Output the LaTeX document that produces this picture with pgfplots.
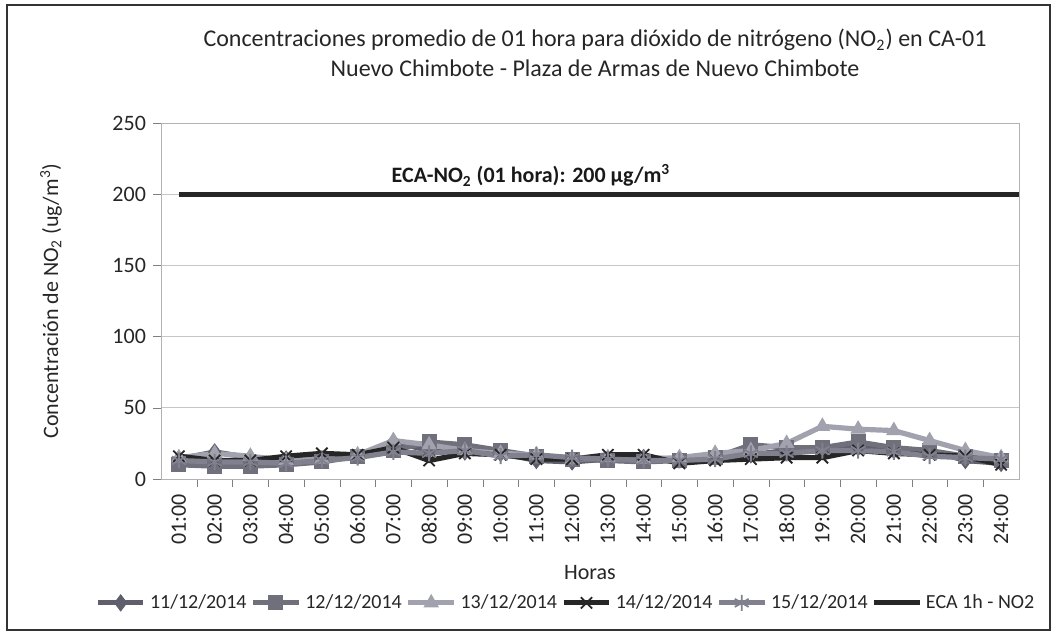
\documentclass[border=0pt]{standalone}
\usepackage{pgfplots}
\pgfplotsset{compat=1.18}
\usepackage{pgfplotstable}
\usepackage{fontspec}
\setmainfont{Carlito}
\definecolor{cA}{HTML}{5E5E6C}
\definecolor{cB}{HTML}{70707C}
\definecolor{cC}{HTML}{A2A2AE}
\definecolor{cD}{HTML}{262626}
\definecolor{cE}{HTML}{80808E}
\pgfplotstableread{
h s11 s12 s13 s14 s15
1 14 10 15 16 13
2 19 9 18 13 12
3 15 9 16 13 12
4 14 10 13 16 11
5 14 12 14 18 13
6 16 16 17 17 15
7 26 20 27 22 19
8 20 26 24 13 18
9 19 24 20 18 20
10 18 20 18 17 16
11 13 16 17 14 17
12 12 14 14 14 15
13 14 13 15 17 14
14 15 12 14 17 13
15 14 13 15 11 13
16 16 15 18 13 14
17 17 24 20 14 18
18 20 22 25 15 18
19 20 22 37 15 20
20 22 26 35 20 20
21 20 22 34 18 19
22 20 20 27 17 16
23 13 16 20 16 15
24 11 13 15 10 14
}\datatable
\begin{document}
\begin{tikzpicture}
\useasboundingbox (0pt,0pt) rectangle (528.5pt,319.5pt);
\draw[line width=1pt, black!80] (3.5pt,4.5pt) rectangle (525pt,317pt);
\node[align=center, font=\fontsize{12}{15}\selectfont, text=black!85] at (297.5pt,293pt)
  {Concentraciones promedio de 01 hora para dióxido de nitrógeno (NO\textsubscript{2}) en CA-01\\Nuevo Chimbote - Plaza de Armas de Nuevo Chimbote};
\node[rotate=90, font=\fontsize{11}{13}\selectfont, text=black!85] at (25.5pt,169pt)
  {Concentración de NO\textsubscript{2} (ug/m\textsuperscript{3})};
\begin{axis}[
  at={(80.5pt,80pt)}, anchor=south west,
  scale only axis, width=429pt, height=178pt,
  xmin=0.5, xmax=24.5, ymin=0, ymax=250,
  ytick={0,50,...,250},
  xtick={1,...,24},
  xticklabels={01:00,02:00,03:00,04:00,05:00,06:00,07:00,08:00,09:00,10:00,11:00,12:00,13:00,14:00,15:00,16:00,17:00,18:00,19:00,20:00,21:00,22:00,23:00,24:00},
  x tick label style={rotate=90, anchor=east, font=\fontsize{11}{13}\selectfont, text=black!85},
  y tick label style={font=\fontsize{11}{13}\selectfont, text=black!85},
  /pgf/number format/assume math mode=true,
  major x tick style={draw=none},
  minor xtick={1.5,...,23.5},
  minor tick length=4pt,
  major tick length=4pt,
  tick align=outside,
  tick pos=left,
  ymajorgrids, grid style={gray!45, line width=0.5pt},
  axis line style={gray!60},
  xlabel={Horas}, xlabel style={font=\fontsize{11}{13}\selectfont, text=black!85, yshift=-3.5pt},
  legend columns=6,
  legend style={at={(0.473,-0.348)}, anchor=center, draw=none, fill=none,
    font=\fontsize{10}{12}\selectfont, text=black!85,
    inner sep=0pt, cells={anchor=west},
    /tikz/every even column/.append style={column sep=0pt},
    /tikz/every odd column/.append style={column sep=0pt}},
  legend image code/.code={\draw[mark repeat=2,mark phase=2,#1] plot coordinates {(0cm,0cm) (0.4cm,0cm) (0.8cm,0cm)};},
  clip=false,
]
\addplot[color=cA, line width=2.6pt, mark=diamond*, mark size=4pt, mark options={solid, fill=cA, line width=0.5pt}] table[x=h,y=s11]{\datatable};
\addlegendentry{11/12/2014}
\addplot[color=cB, line width=2.6pt, mark=square*, mark size=3.5pt, mark options={solid, fill=cB, line width=0.5pt}] table[x=h,y=s12]{\datatable};
\addlegendentry{12/12/2014}
\addplot[color=cC, line width=2.6pt, mark=triangle*, mark size=4pt, mark options={solid, fill=cC, line width=0.5pt}] table[x=h,y=s13]{\datatable};
\addlegendentry{13/12/2014}
\addplot[color=cD, line width=2.6pt, mark=x, mark size=4pt, mark options={solid, line width=0.9pt}] table[x=h,y=s14]{\datatable};
\addlegendentry{14/12/2014}
\addplot[color=cE, line width=2.6pt, mark=asterisk, mark size=4pt, mark options={solid, line width=0.9pt}] table[x=h,y=s15]{\datatable};
\addlegendentry{15/12/2014}
\addplot[color=black!85, line width=2.4pt, mark=none] coordinates {(1,200) (24.5,200)};
\addlegendentry{ECA 1h - NO2}
\node[font=\bfseries\fontsize{11}{13}\selectfont, text=black!90] at (axis cs:10.85,213)
  {ECA-NO\textsubscript{2} (01 hora): 200 µg/m\textsuperscript{3}};
\end{axis}
\end{tikzpicture}
\end{document}
